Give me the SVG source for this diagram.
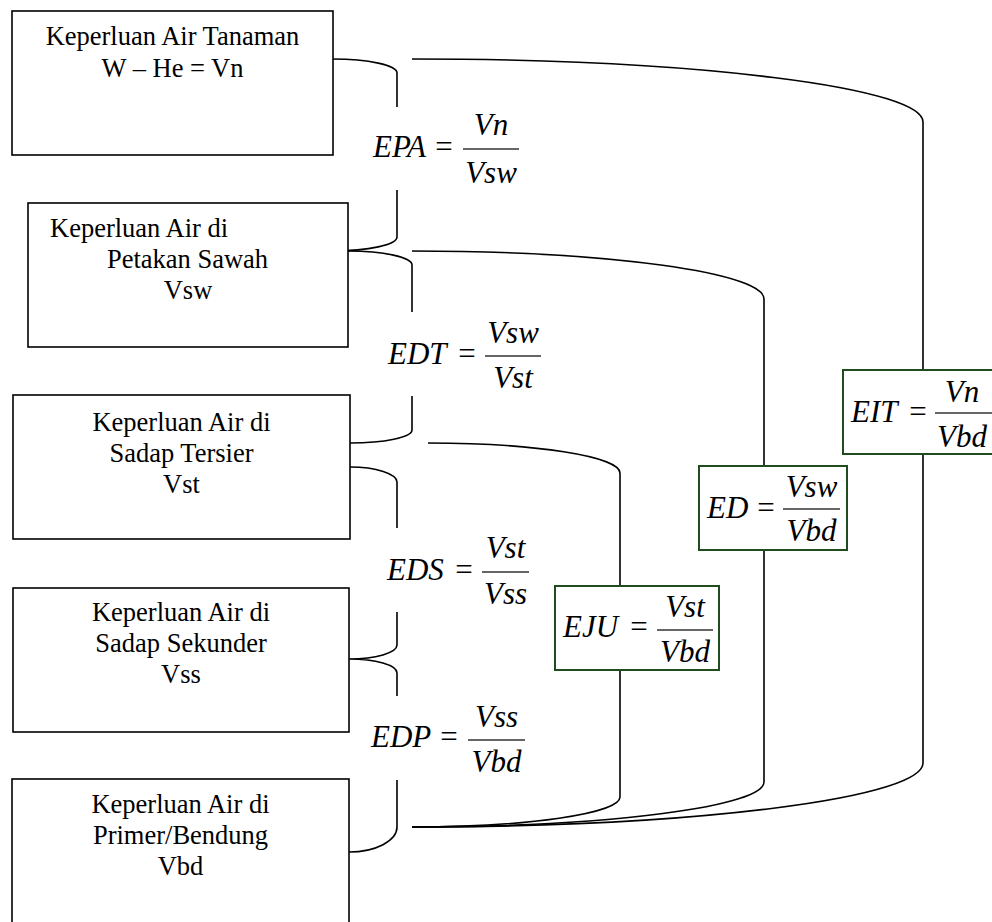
<svg xmlns="http://www.w3.org/2000/svg" width="992" height="922" viewBox="0 0 992 922">
  <style>
    .box { fill: #ffffff; stroke: #000000; stroke-width: 1.6; }
    .gbox { fill: #ffffff; stroke: #1f4d1f; stroke-width: 2; }
    .lbl { font-family: "Liberation Serif", "Times New Roman", serif; font-size: 26.5px; fill: #000000; }
    .mi { font-family: "Liberation Serif", "Times New Roman", serif; font-size: 31px; font-style: italic; fill: #000000; }
    .eq { font-family: "Liberation Serif", "Times New Roman", serif; font-size: 31px; fill: #000000; text-anchor: middle; }
    .num { text-anchor: middle; }
    .bar { stroke: #333333; stroke-width: 1.4; }
    .wire { fill: none; stroke: #000000; stroke-width: 1.6; }
  </style>

  <!-- connectors: short braces between stages and long efficiency curves -->
  <g id="connectors">
    <!-- EPA brace -->
    <path class="wire" d="M333,59 A64,14 0 0 1 397,73 L397,107"/>
    <path class="wire" d="M397,190 L397,237 A64,14 0 0 1 333,251 L332,251"/>
    <!-- EDT brace -->
    <path class="wire" d="M348,251 A64,14 0 0 1 412,265 L412,312"/>
    <path class="wire" d="M412,396 L412,430 A62,13 0 0 1 350,443"/>
    <!-- EDS brace -->
    <path class="wire" d="M350,467 A47,15 0 0 1 397,482 L397,528"/>
    <path class="wire" d="M397,612 L397,645 A48,14 0 0 1 349,659 A48,14 0 0 1 397,673 L397,696"/>
    <!-- EDP brace -->
    <path class="wire" d="M397,780 L397,827 A48,25 0 0 1 349,852"/>
    <!-- EIT -->
    <path class="wire" d="M412,59 A511,63 0 0 1 923,122 L923,763 A511,64 0 0 1 412,827"/>
    <!-- ED -->
    <path class="wire" d="M412,251 A352,48 0 0 1 764,299 L764,782 A352,45 0 0 1 412,827"/>
    <!-- EJU -->
    <path class="wire" d="M428,443 A192,30 0 0 1 620,473 L620,797 A208,30 0 0 1 412,827"/>
  </g>

  <!-- stage boxes -->
  <g id="node-tanaman">
    <rect class="box" x="12" y="11" width="321" height="144"/>
    <text class="lbl" x="172.5" y="45" text-anchor="middle">Keperluan Air Tanaman</text>
    <text class="lbl" x="172.5" y="77" text-anchor="middle">W – He = Vn</text>
  </g>

  <g id="node-sawah">
    <rect class="box" x="28" y="203" width="320" height="144"/>
    <text class="lbl" x="50" y="237">Keperluan Air di</text>
    <text class="lbl" x="187.5" y="268" text-anchor="middle">Petakan Sawah</text>
    <text class="lbl" x="188" y="299" text-anchor="middle">Vsw</text>
  </g>

  <g id="node-tersier">
    <rect class="box" x="13" y="395" width="337" height="144"/>
    <text class="lbl" x="181.5" y="431" text-anchor="middle">Keperluan Air di</text>
    <text class="lbl" x="181.5" y="462" text-anchor="middle">Sadap Tersier</text>
    <text class="lbl" x="181.5" y="493" text-anchor="middle">Vst</text>
  </g>

  <g id="node-sekunder">
    <rect class="box" x="13" y="588" width="336" height="144"/>
    <text class="lbl" x="181" y="621" text-anchor="middle">Keperluan Air di</text>
    <text class="lbl" x="181" y="652" text-anchor="middle">Sadap Sekunder</text>
    <text class="lbl" x="181" y="683" text-anchor="middle">Vss</text>
  </g>

  <g id="node-bendung">
    <rect class="box" x="12" y="779" width="337" height="150"/>
    <text class="lbl" x="180.5" y="813" text-anchor="middle">Keperluan Air di</text>
    <text class="lbl" x="180.5" y="844" text-anchor="middle">Primer/Bendung</text>
    <text class="lbl" x="180.5" y="875" text-anchor="middle">Vbd</text>
  </g>

  <!-- stage efficiency formulas -->
  <g id="formula-epa">
    <text class="mi" x="373" y="157">EPA</text>
    <text class="eq" x="444" y="157">=</text>
    <line class="bar" x1="463" y1="149" x2="519" y2="149"/>
    <text class="mi num" x="491" y="135">Vn</text>
    <text class="mi num" x="491" y="183">Vsw</text>
  </g>

  <g id="formula-edt">
    <text class="mi" x="388" y="364">EDT</text>
    <text class="eq" x="467" y="364">=</text>
    <line class="bar" x1="485" y1="356" x2="541" y2="356"/>
    <text class="mi num" x="513" y="343">Vsw</text>
    <text class="mi num" x="513" y="388">Vst</text>
  </g>

  <g id="formula-eds">
    <text class="mi" x="387" y="580">EDS</text>
    <text class="eq" x="464" y="580">=</text>
    <line class="bar" x1="482" y1="572" x2="529" y2="572"/>
    <text class="mi num" x="505.5" y="558">Vst</text>
    <text class="mi num" x="505.5" y="604">Vss</text>
  </g>

  <g id="formula-edp">
    <text class="mi" x="371" y="747">EDP</text>
    <text class="eq" x="449" y="747">=</text>
    <line class="bar" x1="468" y1="740" x2="525" y2="740"/>
    <text class="mi num" x="496.5" y="727">Vss</text>
    <text class="mi num" x="496.5" y="772">Vbd</text>
  </g>

  <!-- overall efficiency formulas in framed boxes -->
  <g id="formula-eju">
    <rect class="gbox" x="555" y="586" width="164" height="84"/>
    <text class="mi" x="563" y="637">EJU</text>
    <text class="eq" x="639" y="637">=</text>
    <line class="bar" x1="657" y1="630" x2="713" y2="630"/>
    <text class="mi num" x="685" y="617">Vst</text>
    <text class="mi num" x="685" y="662">Vbd</text>
  </g>

  <g id="formula-ed">
    <rect class="gbox" x="699" y="466" width="148" height="84"/>
    <text class="mi" x="707" y="518">ED</text>
    <text class="eq" x="766" y="518">=</text>
    <line class="bar" x1="783" y1="509" x2="840" y2="509"/>
    <text class="mi num" x="811.5" y="497">Vsw</text>
    <text class="mi num" x="811.5" y="541">Vbd</text>
  </g>

  <g id="formula-eit">
    <rect class="gbox" x="843" y="370" width="160" height="84"/>
    <text class="mi" x="851" y="422">EIT</text>
    <text class="eq" x="918" y="422">=</text>
    <line class="bar" x1="935" y1="413" x2="995" y2="413"/>
    <text class="mi num" x="962" y="402">Vn</text>
    <text class="mi num" x="962" y="447">Vbd</text>
  </g>
</svg>
